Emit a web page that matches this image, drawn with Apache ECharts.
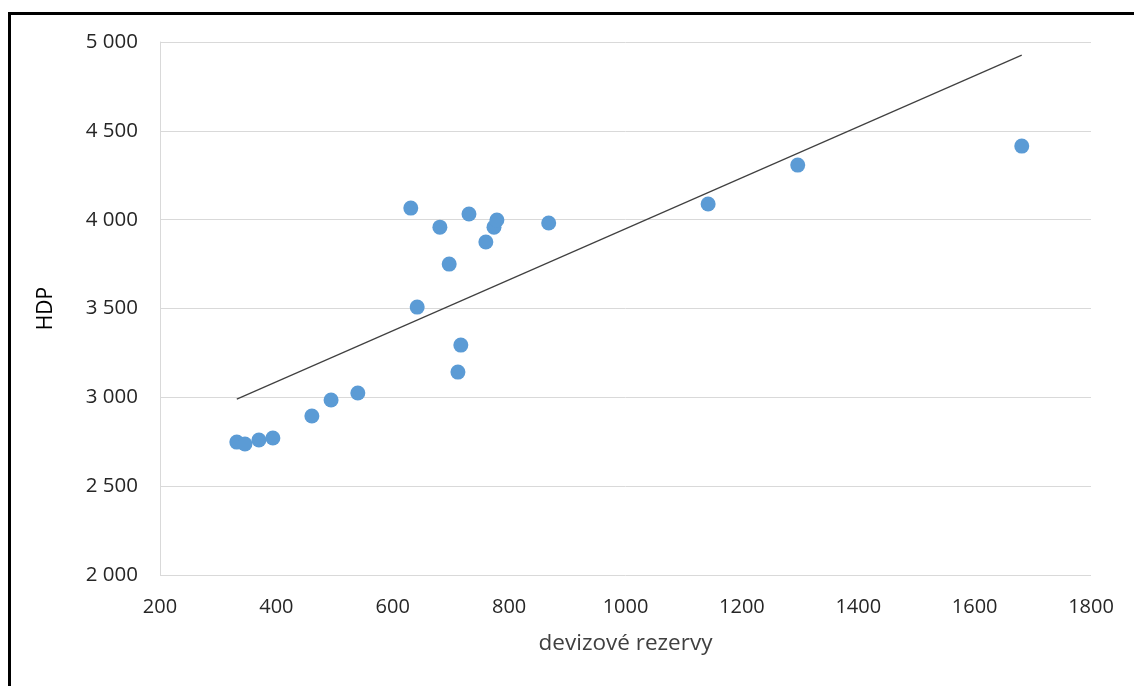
<!DOCTYPE html>
<html><head><meta charset="utf-8">
<script src="https://cdn.jsdelivr.net/npm/echarts@6/dist/echarts.min.js"></script>
<style>
html,body{margin:0;padding:0;background:#fff;}
#frame{position:absolute;left:8px;top:12px;width:1200px;height:700px;border-left:3px solid #000;border-top:3px solid #000;box-sizing:border-box;}
#chart{position:absolute;left:0;top:0;width:1134px;height:686px;}
</style></head>
<body>
<div id="frame"></div>
<div id="chart"></div>
<script>
const reserves = [332, 346, 370, 394, 461, 494, 540, 642, 631, 681, 697, 731, 712, 717, 760, 774, 779, 868, 1142, 1296, 1681];
const gdp = [2748, 2737, 2760, 2771, 2895, 2985, 3024, 3508, 4065, 3958, 3750, 4032, 3142, 3294, 3874, 3958, 3998, 3981, 4088, 4307, 4414];
const trendX = [332, 1681];
const trendY = [2990, 4926];
const xName = 'devizové rezervy';
const yName = 'HDP';

const chart = echarts.init(document.getElementById('chart'), null, {renderer: 'canvas'});
const font = '"Open Sans", sans-serif';
chart.setOption({
  animation: false,
  grid: {left: 160, right: 43, top: 42, bottom: 111},
  xAxis: {
    type: 'value', min: 200, max: 1800, interval: 200,
    name: xName, nameLocation: 'middle', nameGap: 57,
    nameTextStyle: {fontFamily: font, fontSize: 22.5, color: '#404040'},
    axisLine: {show: false}, axisTick: {show: false},
    axisLabel: {fontFamily: font, fontSize: 20, color: '#262626', margin: 22,
      formatter: v => String(v)},
    splitLine: {show: false}
  },
  yAxis: {
    type: 'value', min: 2000, max: 5000, interval: 500,
    name: yName, nameLocation: 'middle', nameGap: 103, nameRotate: 90,
    nameTextStyle: {fontFamily: font, fontSize: 21, color: '#000'},
    axisLine: {show: true, lineStyle: {color: '#d9d9d9', width: 1}}, axisTick: {show: false},
    axisLabel: {fontFamily: font, fontSize: 20.5, color: '#262626', margin: 22,
      formatter: v => String(v).replace(/\B(?=(\d{3})+(?!\d))/g, ' ')},
    splitLine: {show: true, lineStyle: {color: '#d9d9d9', width: 1}}
  },
  series: [
    {type: 'line', data: trendX.map((x, i) => [x, trendY[i]]), showSymbol: false, symbol: 'none',
     lineStyle: {color: '#404040', width: 1.2}, z: 1},
    {type: 'scatter', data: reserves.map((x, i) => [x, gdp[i]]), symbolSize: 15,
     itemStyle: {color: '#5b9bd5', opacity: 1}, z: 2}
  ]
});
</script>
</body></html>
